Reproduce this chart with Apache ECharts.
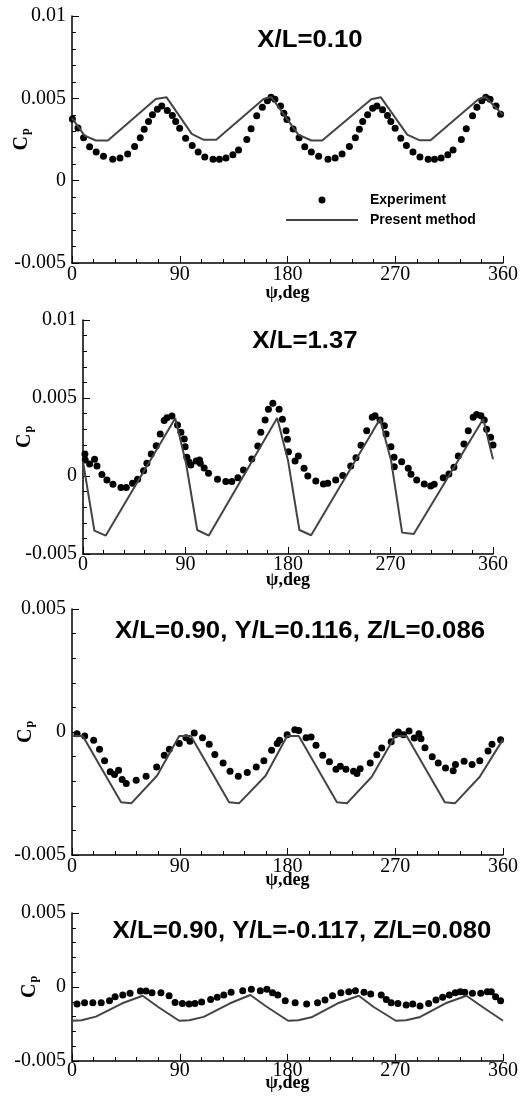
<!DOCTYPE html>
<html>
<head>
<meta charset="utf-8">
<script src="https://cdn.jsdelivr.net/npm/echarts@6/dist/echarts.min.js"></script>
<style>
html,body{margin:0;padding:0;background:#fff;}
#chart{width:521px;height:1096px;}
</style>
</head>
<body>
<div id="chart"></div>
<script>
// ---------------- DATA ----------------
const xTickValues = [0, 90, 180, 270, 360];
const xTickLabels = ['0', '90', '180', '270', '360'];
const yTickValues = [-0.005, 0, 0.005, 0.01];
const yTickLabels = ['-0.005', '0', '0.005', '0.01'];

const panelTitles = [
  'X/L=0.10',
  'X/L=1.37',
  'X/L=0.90, Y/L=0.116, Z/L=0.086',
  'X/L=0.90, Y/L=-0.117, Z/L=0.080'
];
const seriesNames = ['Experiment', 'Present method'];

// Panel 1: X/L=0.10
const p1ExpDeg = [0.3,5,9.7,14.7,20.2,26.3,34,40.1,46.5,52.3,57,60.3,63.9,67.2,71.3,75,79.6,83.8,86.6,89.9,94.9,100.4,105.4,110.9,117.8,123.1,128.6,134.4,139.1,146,149.6,154.3,159,163.2,166.2,169.5,174.2,177,179.5,184.7,189.7,194.4,199.9,206,213.8,219.8,225.6,231.7,236.7,240,242.8,246.9,251.1,254.7,259.4,263.5,266.3,269.9,274.6,279.3,284.8,290.6,297.5,302.8,308.3,313.9,318.3,325.2,329.3,334.6,338.2,342.3,345.6,349.2,354.2,358];
const p1ExpCp = [0.00374,0.0032,0.0026,0.00206,0.00174,0.00148,0.0013,0.00138,0.00162,0.00208,0.0026,0.00312,0.0036,0.004,0.00434,0.00454,0.00426,0.00396,0.0036,0.00318,0.00258,0.00214,0.00174,0.00144,0.0013,0.0013,0.00138,0.00158,0.00186,0.0025,0.00316,0.00394,0.00446,0.00486,0.00506,0.00494,0.00454,0.0041,0.00372,0.00314,0.0026,0.00206,0.00174,0.00148,0.0013,0.00138,0.00162,0.00208,0.0026,0.00312,0.0036,0.004,0.0044,0.00454,0.0043,0.00396,0.0036,0.00318,0.00258,0.00214,0.00174,0.00144,0.0013,0.0013,0.00138,0.00158,0.00186,0.0025,0.00316,0.00394,0.00446,0.00486,0.00506,0.00494,0.00454,0.00404];
const p1LineDeg = [0,10.5,20,30,70,79,100,110,120.5,160,166.5,189,200,209,250,258,280,290,299.5,339.5,345.5,360];
const p1LineCp = [0.0038,0.00274,0.00244,0.00244,0.00496,0.00506,0.00284,0.00248,0.00248,0.00496,0.00508,0.0028,0.00244,0.00244,0.00494,0.00506,0.0028,0.00246,0.00246,0.00494,0.00508,0.00398];

// Panel 2: X/L=1.37
const p2ExpDeg = [1.7,2,5.8,10.2,12.3,16.6,21,26.3,33.3,38,43.5,47.9,53.2,56.1,59.9,64.3,67.8,71.3,73.7,78.1,83,86,88.9,89.7,91.2,93.2,94.7,99.4,102.3,103,106.4,110.2,118.1,125.4,130.7,136,140.9,148.2,153.5,156.1,159.9,162.8,166.7,172.2,175.1,178.3,179.5,180.4,186.2,189.1,194.1,197.4,204.4,211.1,214.9,221.9,228.1,235.1,239.7,244.1,249.1,254,256.4,260.8,264.6,266.1,270.4,273.1,273.3,279.8,285.6,288,293,299.6,305.3,308.4,316.3,321.3,325.7,329.5,334.5,338.3,342.6,345.6,349.4,352.3,354.4,357.9,360];
const p2ExpCp = [0.00141,0.00103,0.00077,0.00107,0.00064,0.0001,-0.00026,-0.00053,-0.00073,-0.00073,-0.00047,-0.00021,0.00034,0.00081,0.00141,0.00194,0.00269,0.00355,0.00374,0.00385,0.00327,0.0028,0.00237,0.00188,0.0012,0.00088,0.00071,0.00096,0.00103,0.00081,0.00051,0.00017,-0.00021,-0.00036,-0.00036,-0.00011,0.00038,0.00109,0.00192,0.0028,0.00359,0.00428,0.00466,0.00428,0.00363,0.0029,0.00235,0.00156,0.00096,0.00128,0.00049,0,-0.00032,-0.00051,-0.00047,-0.00026,0.00004,0.00064,0.00117,0.00197,0.0029,0.00376,0.00387,0.00359,0.00322,0.00269,0.00188,0.0012,0.0006,0.00092,0.00049,0.00011,-0.00026,-0.00051,-0.00064,-0.00053,-0.00011,0.00013,0.00056,0.00128,0.00205,0.0029,0.00376,0.00395,0.00387,0.00359,0.00299,0.00248,0.00199];
const p2LineDeg = [0,10,20,81,90.5,100.3,110.5,170.5,180,190,200.3,260.8,270.5,280.2,290.4,351.4,360];
const p2LineCp = [0.00092,-0.0035,-0.00382,0.0037,0.0008,-0.00346,-0.00382,0.00372,0.001,-0.00346,-0.0038,0.00366,0.001,-0.00363,-0.00372,0.00366,0.00107];

// Panel 3: X/L=0.90, Y/L=0.116, Z/L=0.086
const p3ExpDeg = [4.2,10.6,18.1,23,27.2,31.9,35.5,38.9,41.9,45.3,53.6,61.9,70.7,77.1,81.3,89.6,95.2,98.5,102.1,109,114.6,119.3,126.2,132,138.9,146.4,153.9,160.3,166.7,171.4,173.4,179.7,186.1,189.4,195.5,199.7,203.8,209.4,215,220.5,224.1,228.8,235.2,238,240.7,249.1,254.6,258.7,266.6,269.9,272.6,276.8,281.5,285.9,289.8,291.5,294.8,300.9,305.9,312,318.4,320.3,327.5,334.2,340.6,347.5,350.8,358];
const p3ExpCp = [-0.00007,-0.00016,-0.00034,-0.0007,-0.00117,-0.00162,-0.00173,-0.00155,-0.00193,-0.00209,-0.00196,-0.0018,-0.00142,-0.00095,-0.0007,-0.00047,-0.00023,-0.00038,-0.00004,-0.00023,-0.0005,-0.00091,-0.00126,-0.0016,-0.0018,-0.00165,-0.00142,-0.00117,-0.00074,-0.00047,-0.00034,-0.00011,0.00009,0.00006,-0.00023,-0.0002,-0.00054,-0.00095,-0.00121,-0.00151,-0.00139,-0.00151,-0.0016,-0.00169,-0.00149,-0.00126,-0.00092,-0.00065,-0.0004,-0.00011,0,-0.00011,0.00004,-0.00024,-0.00007,-0.00027,-0.00064,-0.00101,-0.00126,-0.00146,-0.00158,-0.00132,-0.00119,-0.00132,-0.00117,-0.00077,-0.0005,-0.00031];
const p3LineDeg = [0,9,41,49.5,71,89.6,99.3,131.2,139.5,161.7,179.7,189.4,221.3,229.6,250.4,269.9,279.5,311.4,319.8,340.6,360];
const p3LineCp = [-0.00016,-0.00016,-0.00286,-0.0029,-0.00178,-0.00016,-0.00016,-0.00286,-0.0029,-0.00178,-0.00016,-0.00016,-0.00286,-0.0029,-0.00182,-0.00016,-0.00016,-0.00286,-0.0029,-0.00182,-0.0003];

// Panel 4: X/L=0.90, Y/L=-0.117, Z/L=0.080
const p4ExpDeg = [4.2,10.5,17.4,24.4,31.3,36,42.4,48.5,57.1,61.8,66.8,74.3,81.1,86.1,92.2,97.8,102.7,108.3,115.8,121.3,126.8,132.9,142.6,149.8,157.3,162.8,167.5,171.9,178.1,186.4,196,205.1,211.3,217.6,224.6,231.2,236.7,243.9,249.5,258.3,262.5,266.6,272.2,279.1,284.6,290.7,297.9,304,309.6,315.1,320.1,324.3,328.1,334.5,341.4,346.9,350.2,353.8,358];
const p4ExpCp = [-0.00115,-0.00106,-0.00106,-0.00106,-0.00093,-0.00066,-0.00054,-0.00043,-0.00027,-0.00027,-0.00039,-0.00039,-0.00059,-0.00104,-0.00111,-0.00115,-0.00111,-0.00102,-0.00084,-0.0007,-0.00054,-0.00036,-0.00025,-0.00016,-0.00025,-0.00016,-0.00039,-0.00054,-0.00093,-0.00106,-0.00115,-0.00106,-0.00088,-0.00059,-0.00039,-0.00032,-0.00025,-0.00036,-0.00047,-0.00054,-0.00084,-0.00106,-0.00111,-0.00122,-0.00115,-0.00129,-0.00111,-0.00088,-0.0007,-0.00054,-0.00039,-0.00032,-0.00036,-0.00043,-0.00043,-0.00032,-0.00032,-0.00066,-0.00093];
const p4LineDeg = [0,8,20,42,59,72,89.5,98,110,132,149,162,180.5,189,200,222,239.5,252,270.5,279,290,312,329.5,342,360];
const p4LineCp = [-0.00228,-0.00225,-0.002,-0.0011,-0.00059,-0.00135,-0.00228,-0.00225,-0.00202,-0.0011,-0.00054,-0.0013,-0.00228,-0.00225,-0.00205,-0.0011,-0.00059,-0.00135,-0.00228,-0.00225,-0.00205,-0.0011,-0.00059,-0.0013,-0.00228];

const panels = [
  {expX: p1ExpDeg, expY: p1ExpCp, lineX: p1LineDeg, lineY: p1LineCp, yMin: -0.005, yMax: 0.01},
  {expX: p2ExpDeg, expY: p2ExpCp, lineX: p2LineDeg, lineY: p2LineCp, yMin: -0.005, yMax: 0.01},
  {expX: p3ExpDeg, expY: p3ExpCp, lineX: p3LineDeg, lineY: p3LineCp, yMin: -0.005, yMax: 0.005},
  {expX: p4ExpDeg, expY: p4ExpCp, lineX: p4LineDeg, lineY: p4LineCp, yMin: -0.005, yMax: 0.005}
];

// ---------------- LAYOUT ----------------
const layout = [
  {left: 72, top: 16,  width: 434, height: 247, xLabelMargin: 2,  xNameGap: 21, yNameGap: 40, titleX: 310, titleY: 41},
  {left: 83, top: 320, width: 410, height: 234, xLabelMargin: 1,  xNameGap: 17, yNameGap: 48, titleX: 305, titleY: 342},
  {left: 72, top: 609, width: 433, height: 246, xLabelMargin: 2,  xNameGap: 16, yNameGap: 36, titleX: 300, titleY: 632},
  {left: 72, top: 913, width: 434, height: 148, xLabelMargin: 0,  xNameGap: 13, yNameGap: 32, titleX: 302, titleY: 932}
];

const serif = 'Liberation Serif';
const sans = 'Liberation Sans';
const axisLineStyle = {color: '#000', width: 1.5};
const tickStyle = {color: '#000', width: 1};

function zip(xs, ys) { return xs.map((x, i) => [x, ys[i]]); }
function yLabel(v) {
  for (let i = 0; i < yTickValues.length; i++) {
    if (Math.abs(v - yTickValues[i]) < 1e-9) return yTickLabels[i];
  }
  return '';
}
function xLabel(v) {
  const i = xTickValues.indexOf(Math.round(v));
  return i >= 0 ? xTickLabels[i] : '';
}

const grid = [], xAxis = [], yAxis = [], series = [];
panels.forEach((p, i) => {
  const L = layout[i];
  grid.push({left: L.left, top: L.top, width: L.width, height: L.height, containLabel: false});
  xAxis.push({
    type: 'value', gridIndex: i, min: 0, max: 360, interval: 90,
    axisLine: {show: true, onZero: false, lineStyle: axisLineStyle},
    axisTick: {show: true, inside: true, length: 7, lineStyle: tickStyle},
    minorTick: {show: true, splitNumber: 5, length: 4, lineStyle: tickStyle},
    splitLine: {show: false}, minorSplitLine: {show: false},
    axisLabel: {margin: L.xLabelMargin, color: '#000', fontFamily: serif, fontSize: 20, formatter: xLabel},
    name: 'ψ,deg', nameLocation: 'middle', nameGap: L.xNameGap, nameMoveOverlap: false,
    nameTextStyle: {fontFamily: serif, fontWeight: 'bold', fontSize: 18, color: '#000'}
  });
  yAxis.push({
    type: 'value', gridIndex: i, min: p.yMin, max: p.yMax, interval: 0.005,
    axisLine: {show: true, onZero: false, lineStyle: axisLineStyle},
    axisTick: {show: true, inside: true, length: 7, lineStyle: tickStyle},
    minorTick: {show: true, splitNumber: 5, length: 4, lineStyle: tickStyle},
    splitLine: {show: false}, minorSplitLine: {show: false},
    axisLabel: {margin: 6, color: '#000', fontFamily: serif, fontSize: 20, formatter: yLabel},
    name: '{c|C}{p|p}', nameLocation: 'middle', nameGap: L.yNameGap, nameRotate: 90, nameMoveOverlap: false,
    nameTextStyle: {
      rich: {
        c: {fontFamily: serif, fontWeight: 'bold', fontSize: 20, lineHeight: 20, color: '#000', verticalAlign: 'top'},
        p: {fontFamily: serif, fontWeight: 'bold', fontSize: 12, lineHeight: 12, color: '#000', verticalAlign: 'bottom', padding: [10, 0, 0, 1]}
      }
    }
  });
  series.push({
    name: seriesNames[0], type: 'scatter', xAxisIndex: i, yAxisIndex: i,
    data: zip(p.expX, p.expY), symbol: 'circle', symbolSize: 7,
    itemStyle: {color: '#000', opacity: 1}, z: 2
  });
  series.push({
    name: seriesNames[1], type: 'line', xAxisIndex: i, yAxisIndex: i,
    data: zip(p.lineX, p.lineY), symbol: 'none', showSymbol: false,
    lineStyle: {color: '#444', width: 2}, itemStyle: {color: '#444'}, z: 3
  });
});

const graphic = panelTitles.map((t, i) => ({
  type: 'text', x: layout[i].titleX, y: layout[i].titleY, scaleX: 1.12,
  style: {text: t, font: 'bold 23px "Liberation Sans"', fill: '#000', align: 'center', verticalAlign: 'middle'}
}));

const option = {
  animation: false,
  backgroundColor: '#fff',
  grid, xAxis, yAxis, series, graphic,
  legend: {
    left: 286, top: 192, padding: 0, orient: 'vertical', itemWidth: 72, itemHeight: 7, itemGap: 4,
    selectedMode: false,
    textStyle: {fontFamily: sans, fontWeight: 'bold', fontSize: 14, color: '#000', lineHeight: 16, padding: [0, 0, 0, 7]},
    data: [
      {name: seriesNames[0], icon: 'circle', itemStyle: {color: '#000', opacity: 1}},
      {name: seriesNames[1], icon: 'path://M0,0H72V2H0Z', itemStyle: {color: '#444', opacity: 1}}
    ]
  }
};

const chart = echarts.init(document.getElementById('chart'), null, {renderer: 'canvas'});
chart.setOption(option);
</script>
</body>
</html>
